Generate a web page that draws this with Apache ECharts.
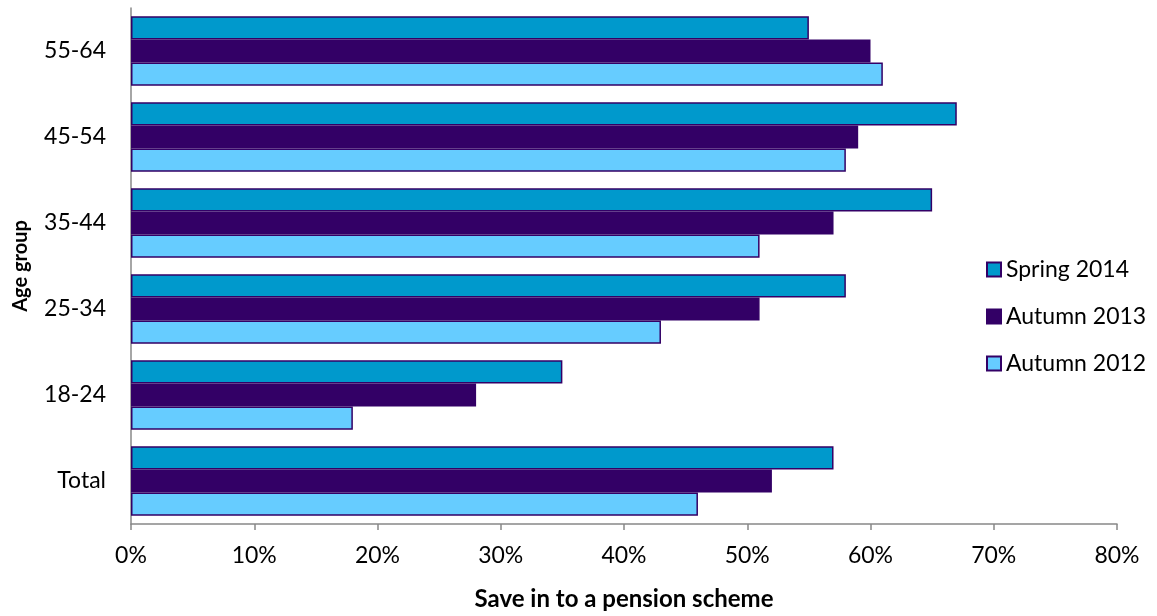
<!DOCTYPE html>
<html><head><meta charset="utf-8">
<script src="https://cdn.jsdelivr.net/npm/echarts@6/dist/echarts.min.js"></script>
<style>html,body{margin:0;padding:0;background:#fff}#c{width:1157px;height:616px}</style>
</head><body><div id="c"></div>
<script>
const categories = ['Total', '18-24', '25-34', '35-44', '45-54', '55-64'];
const spring2014 = [57, 35, 58, 65, 67, 55];
const autumn2013 = [52, 28, 51, 57, 59, 60];
const autumn2012 = [46, 18, 43, 51, 58, 61];
const seriesNames = ['Spring 2014', 'Autumn 2013', 'Autumn 2012'];
const xTitle = 'Save in to a pension scheme';
const yTitle = 'Age group';

const font = 'Lato, "Open Sans", sans-serif';
const chart = echarts.init(document.getElementById('c'));
const border = {borderColor: '#330066', borderWidth: 1.5};
chart.setOption({
  animation: false,
  textStyle: {fontFamily: font},
  grid: {left: 131, right: 40, top: 8, bottom: 90, containLabel: false},
  legend: {
    data: seriesNames, orient: 'vertical', left: 981, top: 253, itemGap: 24, itemTextGap: 7,
    itemWidth: 14, itemHeight: 14, icon: 'rect',
    textStyle: {fontSize: 23, color: '#000', fontFamily: font}
  },
  xAxis: {
    type: 'value', min: 0, max: 80, interval: 10,
    name: xTitle, nameLocation: 'middle', nameGap: 63,
    nameTextStyle: {fontSize: 24, fontWeight: 'bold', color: '#000'},
    axisLine: {show: true, lineStyle: {color: '#888', width: 1.5}},
    axisTick: {show: true, length: 6, lineStyle: {color: '#888', width: 1.5}},
    axisLabel: {formatter: v => v + '%', fontSize: 23, color: '#000', margin: 20},
    splitLine: {show: false}
  },
  yAxis: {
    type: 'category', data: categories,
    name: yTitle, nameLocation: 'middle', nameGap: 100, nameRotate: 90,
    nameTextStyle: {fontSize: 20, fontWeight: 'bold', color: '#000'},
    axisLine: {show: true, lineStyle: {color: '#888', width: 1.5}},
    axisTick: {show: false},
    axisLabel: {fontSize: 23, color: '#000', margin: 25}
  },
  series: [
    {name: 'Spring 2014', type: 'bar', data: spring2014, barGap: '0%', barCategoryGap: '19%',
     itemStyle: Object.assign({color: '#0099cc'}, border)},
    {name: 'Autumn 2013', type: 'bar', data: autumn2013, barGap: '0%', barCategoryGap: '19%',
     itemStyle: Object.assign({color: '#330066'}, border)},
    {name: 'Autumn 2012', type: 'bar', data: autumn2012, barGap: '0%', barCategoryGap: '19%',
     itemStyle: Object.assign({color: '#66ccff'}, border)}
  ]
});
</script></body></html>
